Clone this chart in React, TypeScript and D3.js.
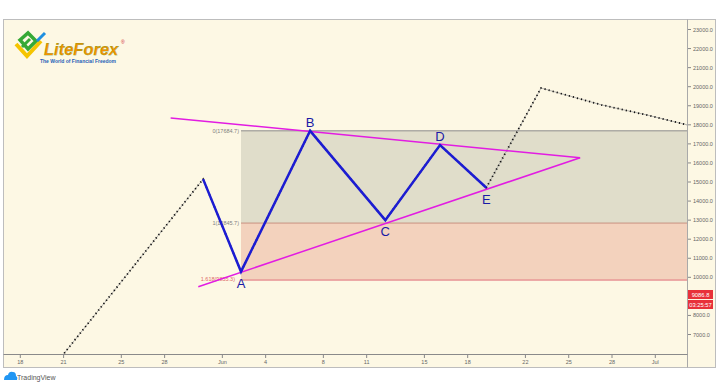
import React from "react";
import * as d3 from "d3";

// price path (pivots)
const pathDates = [
  "2020-05-20T12:00", "2020-05-30T16:00", "2020-06-02T07:00", "2020-06-07T02:00",
  "2020-06-12T07:00", "2020-06-16T02:00", "2020-06-19T07:00", "2020-06-23T02:00",
  "2020-06-27T06:00", "2020-06-30T12:00", "2020-07-03T05:00",
];
const pathPrices = [5500, 15150, 10300, 17684.7, 13000, 16940, 14700, 19930, 19050, 18500, 18000];

// wave A..E (blue)
const waveDates = [
  "2020-05-30T16:00", "2020-06-02T07:00", "2020-06-07T02:00", "2020-06-12T07:00",
  "2020-06-16T02:00", "2020-06-19T07:00",
];
const wavePrices = [15150, 10300, 17684.7, 13000, 16940, 14700];
const waveLabels = ["", "A", "B", "C", "D", "E"];
const labelBelow = [false, true, false, true, false, true];

// triangle trendlines
const upperLine = [["2020-05-28T10:00", 18357], ["2020-06-25T19:00", 16274]];
const lowerLine = [["2020-05-30T08:00", 9506], ["2020-06-25T19:00", 16274]];

// fibonacci levels
const fibRatios = ["0", "1", "1.618"];
const fibPrices = [17684.7, 12845.7, 9855.3];
const fibStart = "2020-06-02T07:00";

const yTicks = [7000, 8000, 9000, 10000, 11000, 12000, 13000, 14000, 15000, 16000, 17000, 18000, 19000, 20000, 21000, 22000, 23000];
const xTickDates = ["2020-05-18", "2020-05-21", "2020-05-25", "2020-05-28", "2020-06-01", "2020-06-04", "2020-06-08", "2020-06-11", "2020-06-15", "2020-06-18", "2020-06-22", "2020-06-25", "2020-06-28", "2020-07-01"];
const xTickLabels = ["18", "21", "25", "28", "Jun", "4", "8", "11", "15", "18", "22", "25", "28", "Jul"];

const lastPrice = "9086.8";
const countdown = "03:25:57";

const W = 720;
const H = 384;
const plot = { left: 4, right: 687, top: 19, bottom: 354 };

const App = () => {
  const parse = (s: string) => new Date(s);
  const x = d3
    .scaleTime()
    .domain([parse("2020-05-18"), parse("2020-07-01")])
    .range([20.3, 655.3]);
  const y = d3.scaleLinear().domain([7000, 23000]).range([334.5, 29.5]);

  const line = d3
    .line<[string, number]>()
    .x((d) => x(parse(d[0])))
    .y((d) => y(d[1]));

  const pricePts = pathDates.map((d, i) => [d, pathPrices[i]] as [string, number]);
  const wavePts = waveDates.map((d, i) => [d, wavePrices[i]] as [string, number]);

  const fibX = x(parse(fibStart));
  const font = "'Liberation Sans', Arial, sans-serif";

  return (
    <svg width={W} height={H} style={{ position: "absolute", left: 0, top: 0, background: "#fff" }} fontFamily={font}>
      <defs>
        <clipPath id="plotclip">
          <rect x={plot.left} y={plot.top} width={plot.right - plot.left} height={plot.bottom - plot.top} />
        </clipPath>
      </defs>

      {/* chart frame */}
      <rect x={3.5} y={19.5} width={712} height={348} fill="#fdf8e4" stroke="#bdbdbd" />
      <line x1={plot.right + 0.5} x2={plot.right + 0.5} y1={19.5} y2={367.5} stroke="#a9a9a9" />
      <line x1={3.5} x2={plot.right + 0.5} y1={plot.bottom + 0.5} y2={plot.bottom + 0.5} stroke="#8a8a8a" />

      {/* fib zones */}
      <g clipPath="url(#plotclip)">
        <rect x={fibX} y={y(fibPrices[0])} width={plot.right - fibX} height={y(fibPrices[1]) - y(fibPrices[0])} fill="#e0ddca" />
        <rect x={fibX} y={y(fibPrices[1])} width={plot.right - fibX} height={y(fibPrices[2]) - y(fibPrices[1])} fill="#f3d2bd" />
        {fibPrices.map((p, i) => (
          <line key={i} x1={fibX} x2={plot.right} y1={y(p)} y2={y(p)}
            stroke={i === 0 ? "#8c8c8c" : i === 1 ? "#c9907e" : "#e0707a"} strokeWidth={1} />
        ))}
      </g>
      {fibPrices.map((p, i) => (
        <text key={i} x={fibX - (i === 2 ? 6 : 2)} y={y(p) + (i === 2 ? 1 : 2)} textAnchor="end" fontSize={5.5}
          fill={i === 2 ? "#e06a6a" : "#808080"}>
          {`${fibRatios[i]}(${p.toFixed(1)})`}
        </text>
      ))}

      {/* price path */}
      <g clipPath="url(#plotclip)">
        <path d={line(pricePts) ?? ""} fill="none" stroke="#9a9a9a" strokeWidth={0.7} />
        <path d={line(pricePts) ?? ""} fill="none" stroke="#111" strokeWidth={1.8} strokeDasharray="1.2 3" />
      </g>

      {/* triangle */}
      {[upperLine, lowerLine].map((l, i) => (
        <path key={i} d={line(l as [string, number][]) ?? ""} fill="none" stroke="#e21ce2" strokeWidth={1.5} />
      ))}

      {/* wave */}
      <path d={line(wavePts) ?? ""} fill="none" stroke="#1c1cd2" strokeWidth={2.5} strokeLinejoin="miter" />
      {wavePts.map((d, i) =>
        waveLabels[i] ? (
          <text key={i} x={x(parse(d[0]))} y={y(d[1]) + (labelBelow[i] ? 16 : -4)} textAnchor="middle"
            fontSize={13} fill="#1a1aa6">
            {waveLabels[i]}
          </text>
        ) : null
      )}

      {/* y axis */}
      {yTicks.map((t) => (
        <g key={t} transform={`translate(${plot.right},${y(t)})`}>
          <line x1={1} x2={4} stroke="#888" />
          <text x={6} y={2} fontSize={5.5} fill="#666">{t.toFixed(1)}</text>
        </g>
      ))}
      <rect x={688} y={290} width={25} height={9} fill="#e8313a" />
      <rect x={688} y={300} width={25} height={9} fill="#e8313a" />
      <text x={700.5} y={297} textAnchor="middle" fontSize={5.8} fill="#fff">{lastPrice}</text>
      <text x={700.5} y={307} textAnchor="middle" fontSize={5.8} fill="#fff">{countdown}</text>

      {/* x axis */}
      {xTickDates.map((d, i) => (
        <g key={d} transform={`translate(${x(parse(d))},${plot.bottom})`}>
          <line y1={1} y2={4} stroke="#888" />
          <text y={10} textAnchor="middle" fontSize={5.5} fill="#666">{xTickLabels[i]}</text>
        </g>
      ))}

      {/* LiteForex logo */}
      <g>
        <path d="M16 44 L27 56 L41 41" fill="none" stroke="#f5c400" strokeWidth={4} strokeLinejoin="miter" />
        <path d="M20 40 L28 33 L36 41 L28 49 Z" fill="none" stroke="#35a936" strokeWidth={3.5} />
        <path d="M22 47 L30 39" stroke="#35a936" strokeWidth={3} />
        <path d="M37 41 L45 33" stroke="#1e8fe0" strokeWidth={3} />
        <text x={44} y={55} fontSize={16.5} fontWeight="bold" fontStyle="italic" fill="#f39200" stroke="#4a9a2a" strokeWidth={0.25}>LiteForex</text>
        <text x={121} y={44} fontSize={5} fill="#d0242b">®</text>
        <text x={40} y={63} fontSize={5} fontWeight="bold" fill="#1e5fb8">The World of Financial Freedom</text>
      </g>

      {/* TradingView */}
      <path d="M4 380 Q4 375 8 375 Q9 371 13 372 Q16 372 16 376 Q18 377 17 380 Z" fill="#2196f3" />
      <text x={17} y={380} fontSize={7} fill="#555">TradingView</text>
    </svg>
  );
};

export default App;
